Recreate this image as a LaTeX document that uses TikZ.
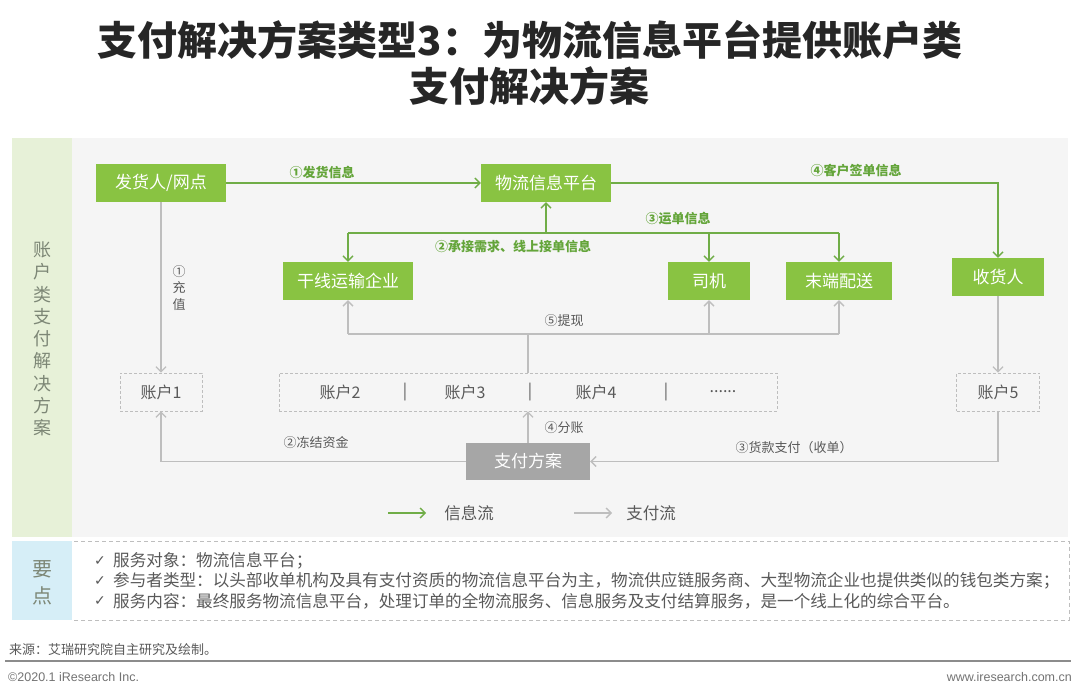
\documentclass[tikz,border=0pt]{standalone}
\usepackage{fontspec}
\setmainfont{Noto Sans CJK SC}
\newfontfamily\dejavu{DejaVu Sans}
\newfontfamily\arial{Liberation Sans}
\usetikzlibrary{arrows.meta}
\definecolor{gbox}{RGB}{137,195,66}
\definecolor{gline}{RGB}{112,173,71}
\definecolor{glabel}{RGB}{100,165,58}
\definecolor{pline}{RGB}{190,190,190}
\definecolor{pbox}{RGB}{166,166,166}
\definecolor{panel}{RGB}{245,245,245}
\definecolor{stripg}{RGB}{231,241,216}
\definecolor{stripb}{RGB}{214,238,247}
\definecolor{txtg}{RGB}{89,89,89}
\definecolor{vlab}{RGB}{125,135,118}
\definecolor{titlec}{RGB}{38,38,38}
\tikzset{
  gnode/.style={fill=gbox, text=white, minimum height=38pt, inner sep=0pt, font=\fontsize{17}{17}\selectfont},
  acc/.style={draw=pline, dash pattern=on 3pt off 2pt, line width=0.8pt, minimum height=38pt, inner sep=0pt, text=txtg, font=\fontsize{16}{16}\selectfont},
  accsub/.style={text=txtg, inner sep=0pt, font=\fontsize{16}{16}\selectfont},
  infoline/.style={draw=gline, line width=1.6pt},
  infoarr/.style={infoline, -{Straight Barb[length=5pt,width=10pt,line width=1.4pt]}},
  payline/.style={draw=pline, line width=1.5pt},
  payarr/.style={payline, -{Straight Barb[length=5pt,width=10pt,line width=1.3pt]}},
  glab/.style={text=glabel, inner sep=0pt, font=\fontsize{13}{13}\selectfont\bfseries},
  plab/.style={text=txtg, inner sep=0pt, font=\fontsize{13}{13}\selectfont},
  bullet/.style={text=txtg, anchor=west, inner sep=0pt, font=\fontsize{16.6}{16.6}\selectfont},
}
\begin{document}
\begin{tikzpicture}[x=1pt,y=-1pt]
\useasboundingbox (0,0) rectangle (1080,692);
\fill[white] (0,0) rectangle (1080,692);
% title
\node[text=titlec, inner sep=0pt, font=\fontsize{40}{40}\selectfont\bfseries] (t1) at (530,40) {支付解决方案类型3：为物流信息平台提供账户类};
\node[text=titlec, inner sep=0pt, font=\fontsize{40}{40}\selectfont\bfseries] (t2) at (529,86) {支付解决方案};
% panels
\fill[panel] (12,138) rectangle (1068,537);
\fill[stripg] (12,138) rectangle (72,537);
\fill[stripb] (12,541) rectangle (72,620);
\draw[pline, line width=0.8pt, dash pattern=on 4pt off 3pt] (74,541) -- (1069,541) -- (1069,620) -- (74,620);
\node[text=vlab, inner sep=0pt, align=center, font=\fontsize{18}{22.3}\selectfont] (vl) at (42,339) {账\\户\\类\\支\\付\\解\\决\\方\\案};
\node[text=vlab, inner sep=0pt, align=center, font=\fontsize{20}{27}\selectfont] (yd) at (42,583) {要\\点};
% green nodes
\node[gnode, minimum width=130pt] (A) at (161,183) {发货人/网点};
\node[gnode, minimum width=130pt] (B) at (546,183) {物流信息平台};
\node[gnode, minimum width=130pt] (C) at (348,281) {干线运输企业};
\node[gnode, minimum width=82pt] (D) at (709,281) {司机};
\node[gnode, minimum width=106pt] (E) at (839,281) {末端配送};
\node[gnode, minimum width=92pt] (F) at (998,277) {收货人};
% accounts
\node[acc, minimum width=82pt] (acc1) at (161,392) {账户1};
\node[acc, minimum width=498pt] (row) at (528,392) {};
\node[acc, minimum width=83pt] (acc5) at (998,392) {账户5};
\node[accsub] (a2) at (340,392) {账户2};
\node[accsub] (s1) at (405,392) {|};
\node[accsub] (a3) at (465,392) {账户3};
\node[accsub] (s2) at (530,392) {|};
\node[accsub] (a4) at (596,392) {账户4};
\node[accsub] (s3) at (666,392) {|};
\node[accsub] (a5) at (723,392) {......};
\node[fill=pbox, text=white, minimum width=124pt, minimum height=37pt, inner sep=0pt, font=\fontsize{17}{17}\selectfont] (pay) at (528,461.5) {支付方案};
% info flow
\draw[infoarr] (A.east) -- (B.west);
\node[glab] (l1) at (322,173) {①发货信息};
\draw[infoarr] (B.east) -| (F.north);
\node[glab] (l4) at (856,171) {④客户签单信息};
\coordinate (j2) at (546,233);
\draw[infoline] (C.north |- j2) -- (E.north |- j2);
\draw[infoarr] (j2) -- (B.south);
\draw[infoarr] (C.north |- j2) -- (C.north);
\draw[infoarr] (D.north |- j2) -- (D.north);
\draw[infoarr] (E.north |- j2) -- (E.north);
\node[glab] (l2) at (513,247) {②承接需求、线上接单信息};
\node[glab] (l3) at (678,219) {③运单信息};
% payment flow
\draw[payarr] (A.south) -- (acc1.north);
\node[plab, align=center, font=\fontsize{13}{16.5}\selectfont] (lc) at (179,288) {①\\充\\值};
\draw[payarr] (pay.west) -| (acc1.south);
\node[plab] (lf) at (316,443) {②冻结资金};
\draw[payarr] (acc5.south) |- (pay.east);
\node[plab] (lh) at (794,448) {③货款支付（收单）};
\draw[payarr] (pay.north) -- (row.south);
\node[plab] (lfz) at (564,428) {④分账};
\coordinate (j5) at (528,334);
\draw[payline] (row.north) -- (j5);
\draw[payline] (C.south |- j5) -- (E.south |- j5);
\draw[payarr] (C.south |- j5) -- (C.south);
\draw[payarr] (D.south |- j5) -- (D.south);
\draw[payarr] (E.south |- j5) -- (E.south);
\node[plab] (ltx) at (564,321) {⑤提现};
\draw[payarr] (F.south) -- (acc5.north);
% legend
\coordinate (lg1s) at (388,513);
\coordinate (lg1e) at (426,513);
\draw[infoarr, line width=1.4pt] (lg1s) -- (lg1e);
\node[accsub, font=\fontsize{16.5}{16.5}\selectfont] (lgt1) at (469,513) {信息流};
\coordinate (lg2s) at (574,513);
\coordinate (lg2e) at (612,513);
\draw[payarr, line width=1.2pt] (lg2s) -- (lg2e);
\node[accsub, font=\fontsize{16.5}{16.5}\selectfont] (lgt2) at (651,513) {支付流};
% key points
\node[text=txtg, inner sep=0pt, font=\dejavu\fontsize{14}{14}\selectfont] (c1) at (100,561) {✓};
\node[text=txtg, inner sep=0pt, font=\dejavu\fontsize{14}{14}\selectfont] (c2) at (100,581) {✓};
\node[text=txtg, inner sep=0pt, font=\dejavu\fontsize{14}{14}\selectfont] (c3) at (100,601) {✓};
\node[bullet] (b1) at (113,561) {服务对象：物流信息平台；};
\node[bullet] (b2) at (113,581) {参与者类型：以头部收单机构及具有支付资质的物流信息平台为主，物流供应链服务商、大型物流企业也提供类似的钱包类方案；};
\node[bullet] (b3) at (113,601) {服务内容：最终服务物流信息平台，处理订单的全物流服务、信息服务及支付结算服务，是一个线上化的综合平台。};
% footer
\node[text=txtg, anchor=west, inner sep=0pt, font=\fontsize{13}{13}\selectfont] (src) at (9,650) {来源：艾瑞研究院自主研究及绘制。};
\draw[line width=2pt, color=black!45] (5,661) -- (1071,661);
\node[text=black!55, anchor=west, inner sep=0pt, font=\arial\fontsize{12.5}{12.5}\selectfont] (cp) at (8,677) {©2020.1 iResearch Inc.};
\node[text=black!55, anchor=east, inner sep=0pt, font=\arial\fontsize{12.5}{12.5}\selectfont] (www) at (1072,677) {www.iresearch.com.cn};
\end{tikzpicture}
\end{document}
